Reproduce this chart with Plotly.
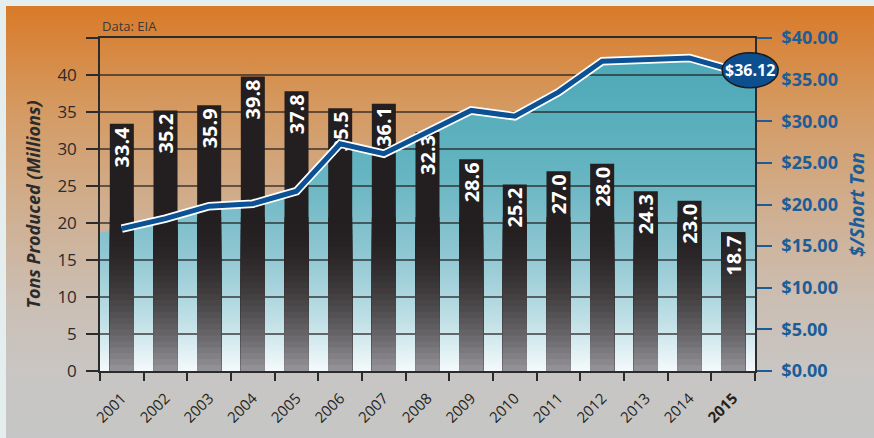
import base64
import plotly.graph_objects as go

# ---------------- data ----------------
years = ["2001", "2002", "2003", "2004", "2005", "2006", "2007", "2008",
         "2009", "2010", "2011", "2012", "2013", "2014", "2015"]
tons = [33.4, 35.2, 35.9, 39.8, 37.8, 35.5, 36.1, 32.3, 28.6, 25.2, 27.0, 28.0, 24.3, 23.0, 18.7]
price = [17.1, 18.3, 19.8, 20.1, 21.6, 27.3, 26.1, 28.7, 31.3, 30.6, 33.5, 37.2, 37.4, 37.6, 36.12]
area_left_edge = 16.6    # shaded area height at left plot edge ($)
area_right_edge = 35.4   # shaded area height at right plot edge ($)
left_ticks = [0, 5, 10, 15, 20, 25, 30, 35, 40, 45]
left_labels = ["0", "5", "10", "15", "20", "25", "30", "35", "40", ""]
right_ticks = [0, 5, 10, 15, 20, 25, 30, 35, 40]
right_labels = ["$%.2f" % v for v in right_ticks]
x_labels = years[:-1] + ["<b>" + years[-1] + "</b>"]

# ---------------- styling ----------------
FONT = "Open Sans"
DARK = "#2b2b2b"
BLUE = "#1c5d98"
LINEBLUE = "#0b5193"
L, R, T, B = 100, 119, 38, 67
W, H = 874, 438
PW, PH = W - L - R, H - T - B
x_lo, x_hi = -0.5, len(years) - 0.5

fig = go.Figure()

# teal area (main subplot, drawn first)
area_x = [x_lo] + list(range(len(years))) + [x_hi]
area_y = [area_left_edge] + price + [area_right_edge]
fig.add_trace(go.Scatter(
    x=area_x, y=area_y, xaxis="x", yaxis="y", mode="lines",
    line=dict(width=0), fill="tozeroy",
    fillgradient=dict(type="vertical", start=0, stop=40,
                      colorscale=[[0, "#f4fafb"], [0.15, "#c0e0e6"], [0.35, "#8fc7d2"],
                                  [0.6, "#65b4c1"], [1, "#47a6b5"]]),
    hoverinfo="skip", showlegend=False))

# horizontal gridlines (drawn above the area, under the bars)
gx, gy = [], []
for t in left_ticks[1:-1]:
    gx += [x_lo, x_hi, None]
    gy += [t, t, None]
fig.add_trace(go.Scatter(x=gx, y=gy, xaxis="x", yaxis="y2", mode="lines",
                         line=dict(color="rgba(35,31,32,0.85)", width=1.5),
                         hoverinfo="skip", showlegend=False))

# bars with a vertical gradient (dark top -> grey bottom)
BW = 0.55
fig.add_trace(go.Bar(x=years, y=tons, xaxis="x2", yaxis="y3", width=BW,
                     marker=dict(color="#231f20", line=dict(width=0)),
                     hoverinfo="skip", showlegend=False))
BLACK = (35, 31, 32)
GREY = (150, 149, 154)
n_layers = 26
top = 20.8
step = top / n_layers
for k in range(n_layers):
    h = top - k * step
    mid = h - step / 2
    t = (1 - mid / top) ** 1.9
    col = "rgb(%d,%d,%d)" % tuple(round(BLACK[i] + (GREY[i] - BLACK[i]) * t) for i in range(3))
    fig.add_trace(go.Bar(x=years, y=[min(v, h) for v in tons], xaxis="x2", yaxis="y3",
                         width=BW, marker=dict(color=col, line=dict(width=0)),
                         hoverinfo="skip", showlegend=False))
# value labels
fig.add_trace(go.Bar(x=years, y=tons, xaxis="x2", yaxis="y3", width=BW,
                     marker=dict(color="rgba(0,0,0,0)", line=dict(width=0)),
                     text=["%.1f" % v for v in tons], textposition="inside",
                     insidetextanchor="end", textangle=-90, constraintext="none",
                     insidetextfont=dict(family=FONT, size=20, color="white", weight="bold"),
                     hoverinfo="skip", showlegend=False))

# price line with white outline
fig.add_trace(go.Scatter(x=years, y=price, xaxis="x2", yaxis="y4", mode="lines",
                         line=dict(color="white", width=8.5), hoverinfo="skip", showlegend=False))
fig.add_trace(go.Scatter(x=years, y=price, xaxis="x2", yaxis="y4", mode="lines",
                         line=dict(color=LINEBLUE, width=5), hoverinfo="skip", showlegend=False))

# ---------------- background gradient ----------------
svg = ('<svg xmlns="http://www.w3.org/2000/svg" width="100" height="100" viewBox="0 0 100 100" '
       'preserveAspectRatio="none"><defs><linearGradient id="g" x1="0" y1="0" x2="0" y2="1">'
       '<stop offset="0" stop-color="#d97a28"/>'
       '<stop offset="0.22" stop-color="#d5985e"/>'
       '<stop offset="0.45" stop-color="#d0ad8c"/>'
       '<stop offset="0.68" stop-color="#cbbeb3"/>'
       '<stop offset="0.86" stop-color="#c8c6c4"/>'
       '<stop offset="1" stop-color="#c6c6c6"/>'
       '</linearGradient></defs><rect width="100" height="100" fill="url(#g)"/></svg>')
src = "data:image/svg+xml;base64," + base64.b64encode(svg.encode()).decode()
fig.add_layout_image(source=src, xref="paper", yref="paper",
                     x=(6 - L) / PW, y=1 + (T - 6) / PH,
                     sizex=(W - 6) / PW, sizey=(H - 6) / PH,
                     xanchor="left", yanchor="top", sizing="stretch", layer="below")

# ---------------- last price bubble ----------------
last = len(years) - 1
last_paper_x = (last + 0.5) / len(years)
fig.add_shape(type="circle", xref="paper", yref="y", xsizemode="pixel", ysizemode="pixel",
              xanchor=last_paper_x, yanchor=price[-1], x0=-11, x1=45, y0=-17.5, y1=17.5,
              fillcolor="#0d4f8e", line=dict(color="#1a1a1a", width=1.5), layer="above")
fig.add_annotation(x=last_paper_x, y=price[-1], xref="paper", yref="y", xshift=17,
                   xanchor="center", yanchor="middle",
                   showarrow=False, text="$%.2f" % price[-1],
                   font=dict(family=FONT, size=16, color="white", weight="bold"))

fig.add_annotation(x=0, y=1, xref="paper", yref="paper", xanchor="left", yanchor="bottom",
                   yshift=1, showarrow=False, text="Data: EIA",
                   font=dict(family=FONT, size=13, color="#3a3a3a"))

# ---------------- layout ----------------
fig.update_layout(
    width=W, height=H,
    margin=dict(l=L, r=R, t=T, b=B, autoexpand=False),
    paper_bgcolor="#e4eeee", plot_bgcolor="rgba(0,0,0,0)",
    barmode="overlay", showlegend=False,
    xaxis=dict(range=[x_lo, x_hi], visible=False, fixedrange=True),
    yaxis=dict(range=[0, 40], side="right", anchor="x", showgrid=False, zeroline=False,
               showline=True, linecolor=DARK, linewidth=1.5,
               tickmode="array", tickvals=right_ticks, ticktext=right_labels,
               ticks="outside", ticklen=15, tickwidth=2, tickcolor=BLUE, ticklabelstandoff=6,
               tickfont=dict(family=FONT, size=18, color=BLUE, weight="bold"),
               title=dict(text="$/Short Ton", standoff=14,
                          font=dict(family=FONT, size=19, color=BLUE, weight="bold", style="italic"))),
    yaxis2=dict(range=[0, 45], side="left", overlaying="y", anchor="x", showgrid=False,
                zeroline=False, showline=True, linecolor=DARK, linewidth=1.5,
                tickmode="array", tickvals=left_ticks, ticktext=left_labels,
                ticks="outside", ticklen=12, tickwidth=1.5, tickcolor=DARK, ticklabelstandoff=6,
                tickfont=dict(family=FONT, size=17, color=DARK),
                title=dict(text="Tons Produced (Millions)", standoff=12,
                           font=dict(family=FONT, size=18, color=DARK, weight="bold", style="italic"))),
    yaxis3=dict(range=[0, 45], overlaying="y", visible=False),
    yaxis4=dict(range=[0, 40], overlaying="y", visible=False),
    xaxis2=dict(type="category", overlaying="x", anchor="y", side="bottom",
                range=[x_lo, x_hi], tickmode="array", tickvals=years, ticktext=x_labels,
                tickson="boundaries", ticks="outside", ticklen=8, tickwidth=1.5, tickcolor=DARK,
                showline=True, mirror=True, linecolor=DARK, linewidth=1.5, showgrid=False,
                tickangle=-45, ticklabelstandoff=11,
                tickfont=dict(family=FONT, size=15, color="#231f20")),
)

fig.write_html("out.html", config={"displayModeBar": False},
               post_script="document.body.style.margin='0';")
